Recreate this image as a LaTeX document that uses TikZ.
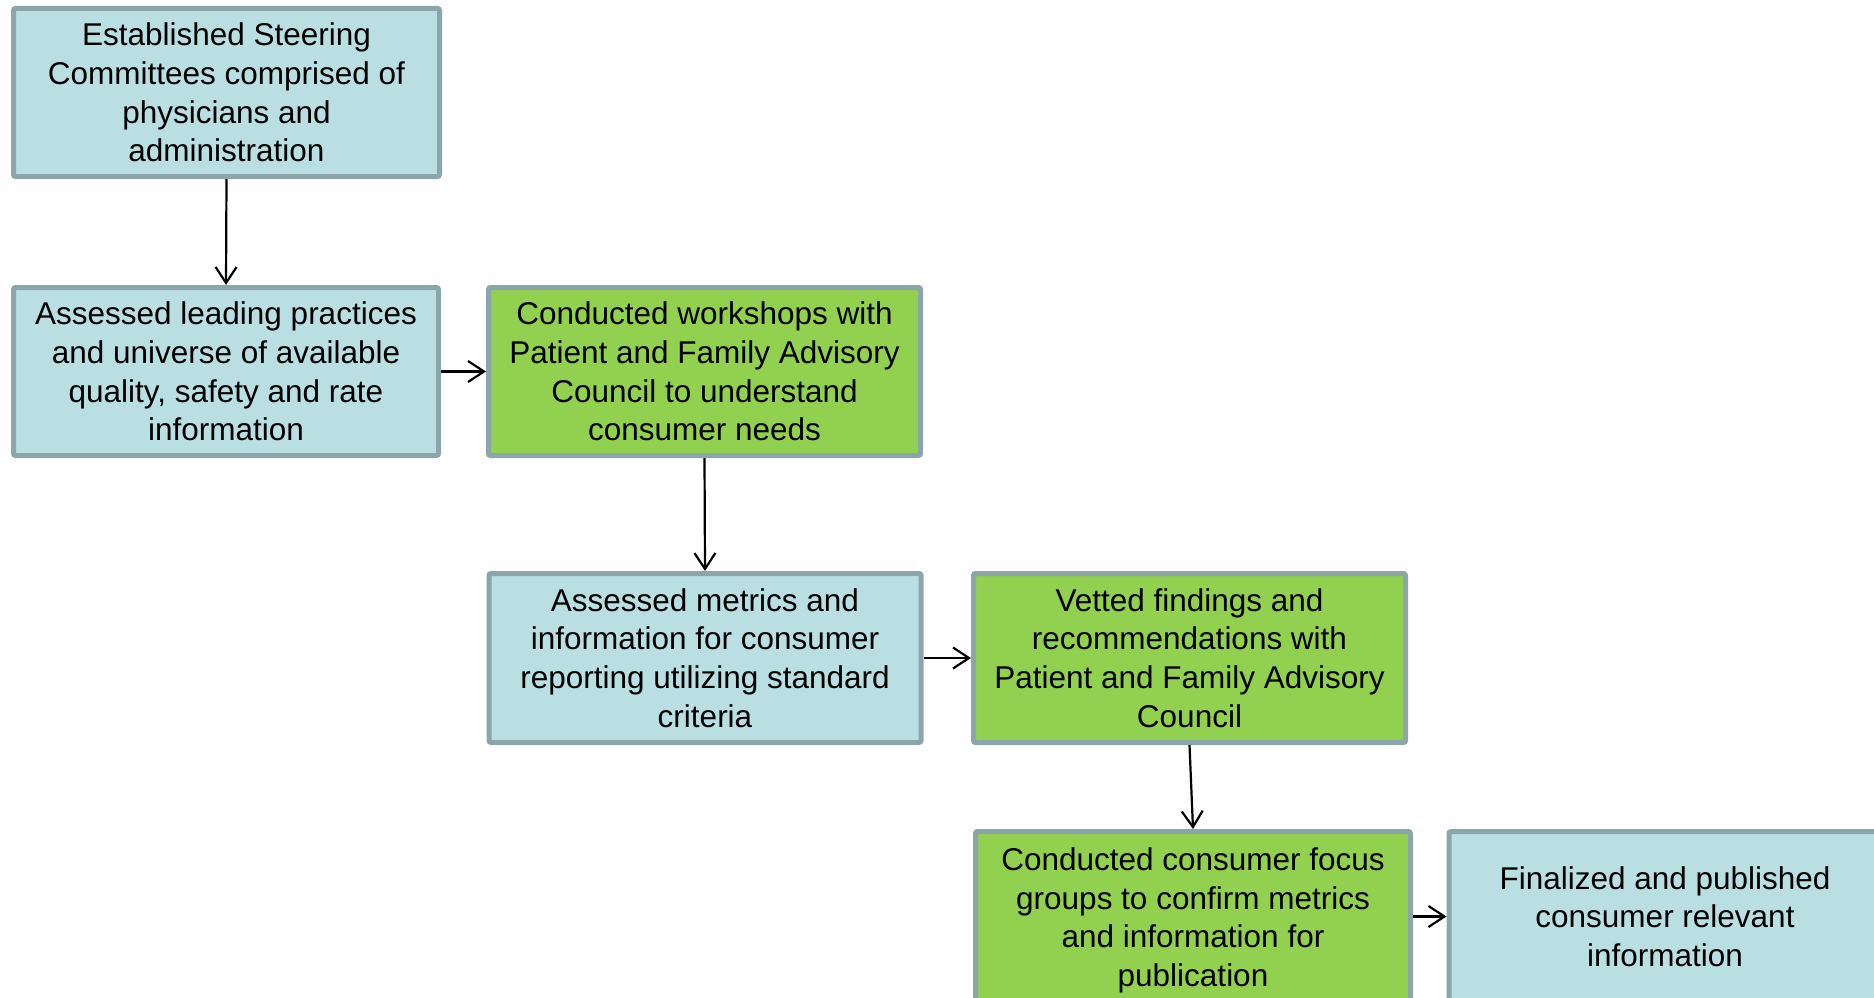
\documentclass[tikz,border=0pt]{standalone}
\usepackage{fontspec}
\setmainfont{Liberation Sans}
\usetikzlibrary{arrows.meta}
\definecolor{boxblue}{HTML}{B9DFE3}
\definecolor{boxgreen}{HTML}{92D050}
\definecolor{boxedge}{HTML}{8CA5AA}
\begin{document}
\begin{tikzpicture}[x=1pt,y=-1pt,
  stepbox/.style={draw=boxedge, line width=5pt, rounded corners=2pt,
    minimum width=432pt, minimum height=168pt, inner sep=0pt, align=center,
    font=\fontsize{31.5}{38.6}\selectfont},
  bluebox/.style={stepbox, fill=boxblue},
  greenbox/.style={stepbox, fill=boxgreen},
  conn/.style={draw=black, line width=2.2pt, -{Straight Barb[length=16pt,width=21pt,line width=2.2pt]}}]
\useasboundingbox (0,0) rectangle (1874,998);
\clip (0,0) rectangle (1874,998);
\node[bluebox, minimum width=426pt] (b1) at (226.5,92.5) {Established Steering\\Committees comprised of\\physicians and\\administration};
\node[bluebox, minimum width=425pt] (b2) at (226,371.5) {Assessed leading practices\\and universe of available\\quality, safety and rate\\information};
\node[greenbox] (b3) at (704.5,371.5) {Conducted workshops with\\Patient and Family Advisory\\Council to understand\\consumer needs};
\node[bluebox, minimum height=169pt] (b4) at (705,658) {Assessed metrics and\\information for consumer\\reporting utilizing standard\\criteria};
\node[greenbox, minimum height=169pt] (b5) at (1189.5,658) {Vetted findings and\\recommendations with\\Patient and Family Advisory\\Council};
\node[greenbox, minimum width=435pt, minimum height=178pt] (b6) at (1193,920.5) {Conducted consumer focus\\groups to confirm metrics\\and information for\\publication};
\node[bluebox, minimum height=170pt] (b7) at (1665,916.5) {Finalized and published\\consumer relevant\\information};
\draw[conn] (b1.south) -- (b2.north);
\draw[conn] (b2.east) -- (b3.west);
\draw[conn] (b3.south) -- (b4.north);
\draw[conn] (b4.east) -- (b5.west);
\draw[conn] (b5.south) -- (b6.north);
\draw[conn] (b6.east |- b7.west) -- (b7.west);
\end{tikzpicture}
\end{document}
